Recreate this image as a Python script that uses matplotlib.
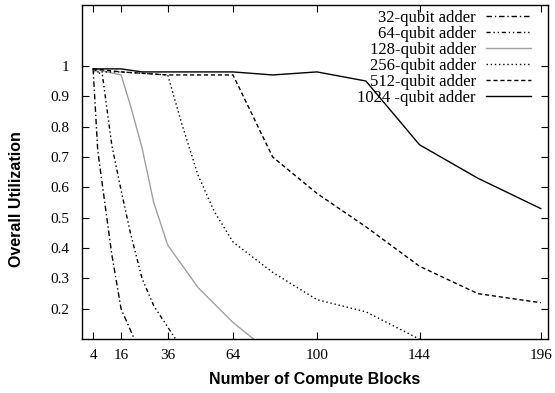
import matplotlib

matplotlib.use("Agg")

import matplotlib.pyplot as plt

# data
x_32 = [4, 6, 9, 12, 16, 20, 25]
y_32 = [0.99, 0.72, 0.55, 0.38, 0.20, 0.13, 0.04]

x_64 = [4, 8, 12, 16, 20, 25, 30, 36, 42]
y_64 = [0.99, 0.97, 0.74, 0.59, 0.45, 0.30, 0.21, 0.14, 0.07]

x_128 = [4, 16, 20, 25, 30, 36, 49, 64, 81]
y_128 = [0.99, 0.97, 0.87, 0.73, 0.55, 0.41, 0.27, 0.155, 0.05]

x_256 = [4, 16, 36, 42, 49, 56, 64, 81, 100, 121, 144]
y_256 = [0.98, 0.98, 0.97, 0.81, 0.64, 0.52, 0.42, 0.32, 0.23, 0.19, 0.10]

x_512 = [4, 16, 36, 64, 81, 100, 121, 144, 169, 196]
y_512 = [0.99, 0.98, 0.97, 0.97, 0.70, 0.58, 0.47, 0.34, 0.25, 0.22]

x_1024 = [4, 16, 25, 36, 64, 81, 100, 121, 144, 169, 196]
y_1024 = [0.99, 0.99, 0.98, 0.98, 0.98, 0.97, 0.98, 0.95, 0.74, 0.63, 0.53]

labels = ["32-qubit adder", "64-qubit adder", "128-qubit adder",
          "256-qubit adder", "512-qubit adder", "1024 -qubit adder"]

x_ticks = [4, 16, 36, 64, 100, 144, 196]
y_ticks = [0.2, 0.3, 0.4, 0.5, 0.6, 0.7, 0.8, 0.9, 1.0]
y_tick_labels = ["0.2", "0.3", "0.4", "0.5", "0.6", "0.7", "0.8", "0.9", "1"]

series = [
    (x_32, y_32, dict(color="black", linestyle=(0, (4, 2, 1, 2)))),
    (x_64, y_64, dict(color="black", linestyle=(0, (3, 2, 1, 2, 1, 2)))),
    (x_128, y_128, dict(color="#a0a0a0", linestyle="-")),
    (x_256, y_256, dict(color="black", linestyle=(0, (1, 2)))),
    (x_512, y_512, dict(color="black", linestyle=(0, (3, 2)))),
    (x_1024, y_1024, dict(color="black", linestyle="-")),
]

serif = ["Liberation Serif", "DejaVu Serif"]
sans = ["Liberation Sans", "DejaVu Sans"]

fig = plt.figure(figsize=(5.55, 3.93), dpi=100)
axis = fig.add_axes([0.148, 0.137, 0.839, 0.850])

for (xs, ys, style), label in zip(series, labels):
    axis.plot(xs, ys, linewidth=1.0, label=label, **style)

axis.set_xlim(-0.7, 199)
axis.set_ylim(0.1, 1.2)
axis.set_xticks(x_ticks)
axis.set_xticklabels([str(t) for t in x_ticks], family=serif, fontsize=11)
axis.set_yticks(y_ticks)
axis.set_yticklabels(y_tick_labels, family=serif, fontsize=11)
axis.tick_params(direction="in", length=5, width=0.8, top=True, right=True)
axis.tick_params(axis="y", pad=9)
axis.tick_params(axis="x", pad=7)
for spine in axis.spines.values():
    spine.set_linewidth(1.0)

axis.set_xlabel("Number of Compute Blocks", family=sans, fontweight="bold", fontsize=11.5)
axis.set_ylabel("Overall Utilization", family=sans, fontweight="bold", fontsize=11.5)
axis.xaxis.set_label_coords(0.5, -0.098)
axis.yaxis.set_label_coords(-0.124, 0.42)

axis.legend(loc="upper right", bbox_to_anchor=(0.985, 1.015), frameon=False,
            markerfirst=False, handlelength=2.7, labelspacing=0.0,
            borderaxespad=0.2, handletextpad=0.6,
            prop={"family": serif, "size": 12})

fig.savefig("out.png", dpi=100)
plt.close(fig)
